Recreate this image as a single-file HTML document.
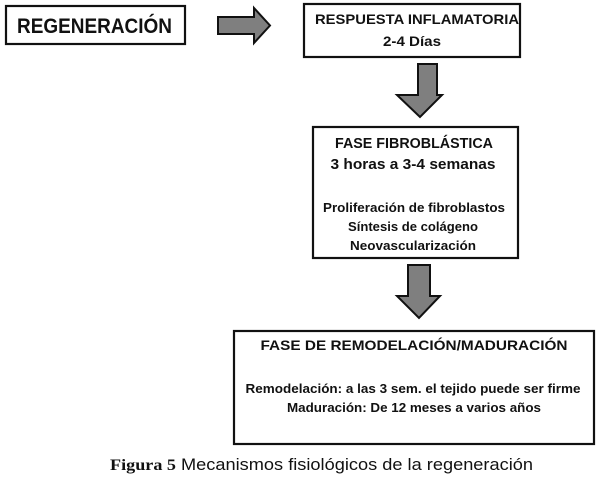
<!DOCTYPE html>
<html><head><meta charset="utf-8"><style>body{margin:0;background:#fff}svg{display:block}</style></head>
<body>
<svg width="600" height="488" viewBox="0 0 600 488" xmlns="http://www.w3.org/2000/svg" font-family="Liberation Sans, sans-serif" font-weight="bold" fill="#111">
<g fill="#fff" stroke="#111" stroke-width="2.2">
<rect x="6" y="6" width="179" height="38"/>
<rect x="304" y="4" width="216" height="53"/>
<rect x="313" y="127" width="205" height="131"/>
<rect x="234" y="331" width="360" height="113"/>
</g>
<g fill="#7f7f7f" stroke="#111" stroke-width="2">
<polygon points="218,17 254,17 254,8 270,25.5 254,43 254,34 218,34"/>
<polygon points="418,64 437,64 437,95 442,95 420,117 397,95 418,95"/>
<polygon points="408,265 430,265 430,296 440,296 419,318 397,296 408,296"/>
</g>
<text x="17" y="33" font-size="21" textLength="155" lengthAdjust="spacingAndGlyphs">REGENERACIÓN</text>
<g text-anchor="middle">
<text x="417" y="24" font-size="14" textLength="204" lengthAdjust="spacingAndGlyphs">RESPUESTA INFLAMATORIA</text>
<text x="412" y="46" font-size="14" textLength="58" lengthAdjust="spacingAndGlyphs">2-4 Días</text>
<text x="414" y="148" font-size="14.5" textLength="158" lengthAdjust="spacingAndGlyphs">FASE FIBROBLÁSTICA</text>
<text x="413" y="169" font-size="14.5" textLength="165" lengthAdjust="spacingAndGlyphs">3 horas a 3-4 semanas</text>
<text x="414" y="212" font-size="12.5" textLength="182" lengthAdjust="spacingAndGlyphs">Proliferación de fibroblastos</text>
<text x="413" y="231" font-size="12.5" textLength="130" lengthAdjust="spacingAndGlyphs">Síntesis de colágeno</text>
<text x="413" y="250" font-size="12.5" textLength="126" lengthAdjust="spacingAndGlyphs">Neovascularización</text>
<text x="414" y="350" font-size="14" textLength="307" lengthAdjust="spacingAndGlyphs">FASE DE REMODELACIÓN/MADURACIÓN</text>
<text x="413" y="393" font-size="12.5" textLength="335" lengthAdjust="spacingAndGlyphs">Remodelación: a las 3 sem. el tejido puede ser firme</text>
<text x="414" y="412" font-size="12.5" textLength="254" lengthAdjust="spacingAndGlyphs">Maduración: De 12 meses a varios años</text>
</g>
<text x="110" y="470" font-size="16" font-family="Liberation Serif, serif" font-weight="bold" textLength="66" lengthAdjust="spacingAndGlyphs">Figura 5</text>
<text x="181" y="470" font-size="17" font-weight="normal" textLength="352" lengthAdjust="spacingAndGlyphs">Mecanismos fisiológicos de la  regeneración</text>
</svg>
</body></html>
